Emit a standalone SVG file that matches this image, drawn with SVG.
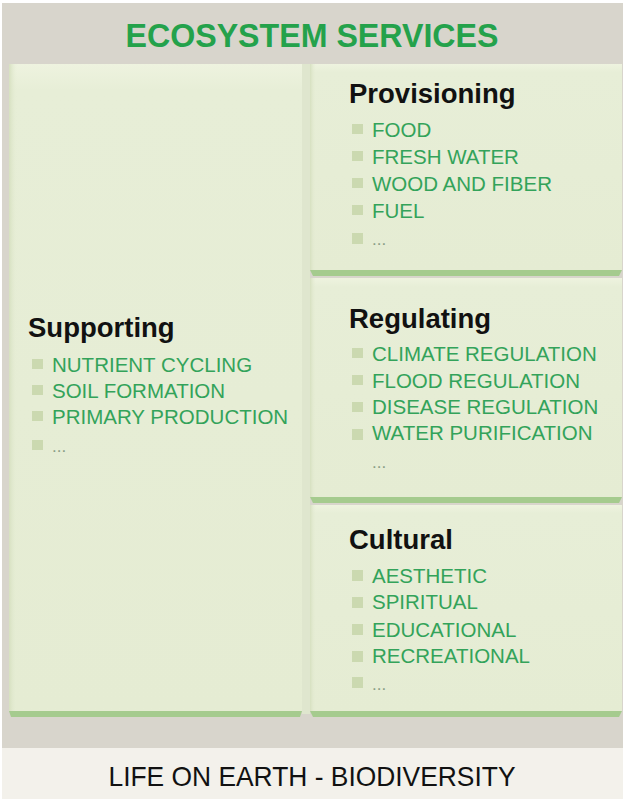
<svg xmlns="http://www.w3.org/2000/svg" width="629" height="799" viewBox="0 0 629 799">
<defs>
<linearGradient id="pg" x1="0" y1="0" x2="0" y2="1">
<stop offset="0" stop-color="#eef3df"/>
<stop offset="0.04" stop-color="#e7eed7"/>
<stop offset="1" stop-color="#e5ecd3"/>
</linearGradient>
<linearGradient id="lg" x1="0" y1="0" x2="1" y2="0">
<stop offset="0" stop-color="#d6e0c0"/>
<stop offset="1" stop-color="#e6edd5" stop-opacity="0"/>
</linearGradient>
</defs>
<style>
.head{font-family:"Liberation Sans",Arial,sans-serif;font-weight:bold;font-size:27.5px;fill:#111}
.item{font-family:"Liberation Sans",Arial,sans-serif;font-size:20.5px;fill:#33a35a}
.dots{font-family:"Liberation Sans",Arial,sans-serif;font-size:17px;fill:#8a9f86}
.bul{fill:#cbd9b0}
.panel{fill:url(#pg)}
.edge{fill:url(#lg)}
.bar{fill:#a5cb8e}
</style>
<rect x="0" y="0" width="629" height="799" fill="#ffffff"/>
<rect x="2" y="3" width="621" height="745" fill="#d8d5cc"/>
<rect x="2" y="748" width="621" height="51" fill="#f3f1eb"/>
<rect x="302" y="64" width="8" height="650" fill="#dfe6ce"/>
<text x="312" y="47" text-anchor="middle" font-family="'Liberation Sans',Arial,sans-serif" font-weight="bold" font-size="34" fill="#24a24b" textLength="373" lengthAdjust="spacingAndGlyphs">ECOSYSTEM SERVICES</text>
<text x="312" y="786" text-anchor="middle" font-family="'Liberation Sans',Arial,sans-serif" font-size="28" fill="#111" textLength="407" lengthAdjust="spacingAndGlyphs">LIFE ON EARTH - BIODIVERSITY</text>

<g id="supporting">
<rect class="panel" x="9" y="64" width="293" height="647"/>
<rect class="edge" x="9" y="64" width="8" height="647"/>
<polygon class="bar" points="9,711 302,711 300,717 11,717"/>
<text class="head" x="28" y="337">Supporting</text>
<rect class="bul" x="32" y="359" width="11" height="10"/>
<text class="item" x="52" y="372">NUTRIENT CYCLING</text>
<rect class="bul" x="32" y="385" width="11" height="10"/>
<text class="item" x="52" y="398">SOIL FORMATION</text>
<rect class="bul" x="32" y="411" width="11" height="10"/>
<text class="item" x="52" y="424">PRIMARY PRODUCTION</text>
<rect class="bul" x="32" y="440" width="11" height="10"/>
<text class="dots" x="52" y="452">...</text>
</g>

<g id="provisioning">
<rect class="panel" x="310" y="64" width="312" height="206"/>
<rect class="edge" x="310" y="64" width="6" height="206"/>
<polygon class="bar" points="310,270 622,270 619,276 313,276"/>
<text class="head" x="349" y="103">Provisioning</text>
<rect class="bul" x="352" y="124" width="11" height="10"/>
<text class="item" x="372" y="137">FOOD</text>
<rect class="bul" x="352" y="151" width="11" height="10"/>
<text class="item" x="372" y="164">FRESH WATER</text>
<rect class="bul" x="352" y="178" width="11" height="10"/>
<text class="item" x="372" y="191">WOOD AND FIBER</text>
<rect class="bul" x="352" y="205" width="11" height="10"/>
<text class="item" x="372" y="218">FUEL</text>
<rect class="bul" x="352" y="233" width="11" height="11"/>
<text class="dots" x="372" y="245">...</text>
</g>

<g id="regulating">
<rect class="panel" x="310" y="278" width="312" height="219"/>
<rect class="edge" x="310" y="278" width="6" height="219"/>
<polygon class="bar" points="310,497 622,497 619,503 313,503"/>
<text class="head" x="349" y="328">Regulating</text>
<rect class="bul" x="352" y="348" width="11" height="10"/>
<text class="item" x="372" y="361">CLIMATE REGULATION</text>
<rect class="bul" x="352" y="375" width="11" height="10"/>
<text class="item" x="372" y="388">FLOOD REGULATION</text>
<rect class="bul" x="352" y="402" width="11" height="10"/>
<text class="item" x="372" y="414">DISEASE REGULATION</text>
<rect class="bul" x="352" y="429" width="11" height="11"/>
<text class="item" x="372" y="440">WATER PURIFICATION</text>
<text class="dots" x="372" y="468">...</text>
</g>

<g id="cultural">
<rect class="panel" x="310" y="505" width="312" height="206"/>
<rect class="edge" x="310" y="505" width="6" height="206"/>
<polygon class="bar" points="310,711 622,711 619,717 313,717"/>
<text class="head" x="349" y="549">Cultural</text>
<rect class="bul" x="352" y="570" width="11" height="11"/>
<text class="item" x="372" y="583">AESTHETIC</text>
<rect class="bul" x="352" y="597" width="11" height="11"/>
<text class="item" x="372" y="609">SPIRITUAL</text>
<rect class="bul" x="352" y="624" width="11" height="11"/>
<text class="item" x="372" y="637">EDUCATIONAL</text>
<rect class="bul" x="352" y="651" width="11" height="11"/>
<text class="item" x="372" y="663">RECREATIONAL</text>
<rect class="bul" x="352" y="677" width="11" height="11"/>
<text class="dots" x="372" y="690">...</text>
</g>
<g id="connectors"/>
</svg>
